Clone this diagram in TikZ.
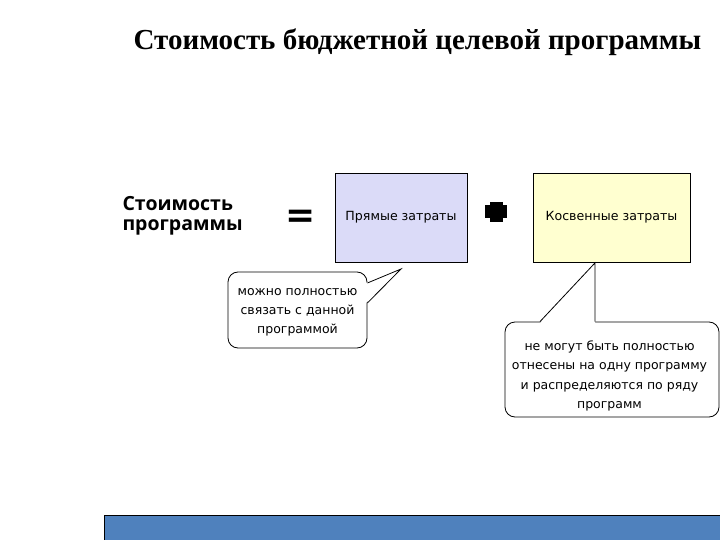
\documentclass[tikz,border=0pt]{standalone}
\usepackage{fontspec}
\setmainfont{DejaVu Sans}
\newfontfamily\titlefont{Liberation Serif}
\newfontfamily\labelfont{Open Sans}
\usetikzlibrary{arrows.meta,calc}

\definecolor{directfill}{RGB}{219,219,248}
\definecolor{indirectfill}{RGB}{255,255,208}
\definecolor{barblue}{RGB}{79,129,189}

\tikzset{
  costbox/.style={draw=black,line width=0.8pt,minimum width=#1,minimum height=89pt,
    inner sep=0pt,font=\fontsize{12.6}{14}\selectfont},
  note/.style={draw=black,line width=0.8pt,rounded corners=10pt,fill=white,inner sep=0pt},
  notetext/.style={align=center,inner sep=0pt,font=\fontsize{12.5}{19.2}\selectfont},
  tail/.style={draw=black,line width=0.8pt,line join=miter},
}

\begin{document}
\begin{tikzpicture}[x=1pt,y=-1pt,>=Latex]
  \useasboundingbox (0,0) rectangle (720,540);

  % ================= title =================
  \node[anchor=base,font=\titlefont\bfseries\fontsize{29}{32}\selectfont] (title) at (417.5,50)
    {Стоимость бюджетной целевой программы};

  % ================= cost = direct + indirect =================
  \node[anchor=base west,align=left,font=\labelfont\bfseries\fontsize{19.5}{20.5}\selectfont] (cost) at (119,230.5)
    {Стоимость\\программы};
  \node[font=\bfseries\fontsize{36}{36}\selectfont] (equals) at (300.5,218.5) {=};

  \node[costbox=132pt,fill=directfill] (direct) at (401,217.5) {Прямые затраты};
  \node[costbox=157pt,fill=indirectfill] (indirect) at (611.5,217.5) {Косвенные затраты};

  \coordinate (plus) at (496,212);
  \draw[line width=13pt] ($(plus)+(-11,0)$) -- ($(plus)+(11,0)$);
  \draw[line width=13pt] ($(plus)+(0,-10)$) -- ($(plus)+(0,10)$);

  % ================= callout for direct costs =================
  \node[note,minimum width=139pt,minimum height=76pt] (sure) at (297.5,310) {};
  \node[notetext] (sure text) at (297.5,312.5) {можно полностью\\связать с данной\\программой};
  \coordinate (sure tip) at (401,269);
  \fill[white] ($(sure.east)+(-1.5,-27)$) -- (sure tip) -- ($(sure.east)+(-1.5,-7)$) -- cycle;
  \draw[tail] ($(sure.east)+(0,-27)$) -- (sure tip) -- ($(sure.east)+(0,-7)$);

  % ================= callout for indirect costs =================
  \node[note,minimum width=214pt,minimum height=95pt] (shared) at (612,369.5) {};
  \node[notetext] (shared text) at (609.5,376) {не могут быть полностью\\отнесены на одну программу\\и распределяются по ряду\\программ};
  \coordinate (shared tip) at ($(indirect.south)+(-16.5,0.5)$);
  \fill[white] ($(shared.north)+(-72,1.5)$) -- (shared tip) -- ($(shared.north)+(-17,1.5)$) -- cycle;
  \draw[tail] ($(shared.north)+(-72,0)$) -- (shared tip) -- ($(shared.north)+(-17,0)$);

  % ================= bottom bar =================
  \fill[barblue] (104,515) rectangle (722,542);
  \draw[line width=0.8pt] (104,542) -- (104,515) -- (722,515);

\end{tikzpicture}
\end{document}
